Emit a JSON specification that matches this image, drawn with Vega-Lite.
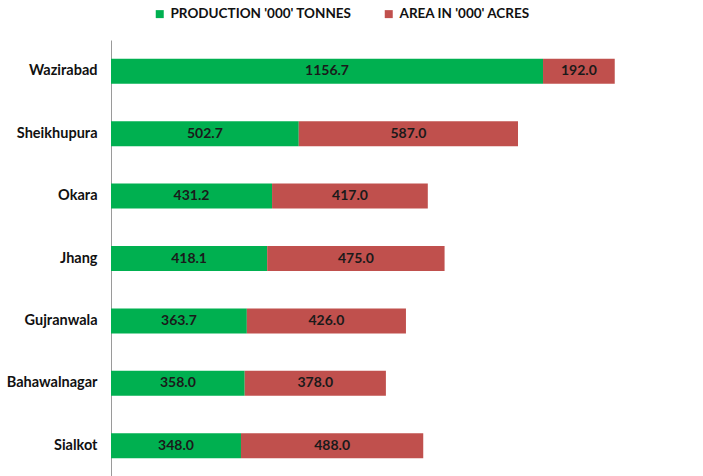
{
  "$schema": "https://vega.github.io/schema/vega-lite/v6.json",
  "autosize": {"type": "none"},
  "padding": {"left": 111, "top": 40, "right": 0, "bottom": 0},
  "width": 592,
  "height": 437,
  "background": "white",
  "config": {"view": {"stroke": null}, "font": "Lato"},
  "data": {
    "values": [
      {"district": "Wazirabad", "series": "PRODUCTION '000' TONNES", "ord": 1, "value": 1156.7},
      {"district": "Wazirabad", "series": "AREA IN '000' ACRES", "ord": 2, "value": 192.0},
      {"district": "Sheikhupura", "series": "PRODUCTION '000' TONNES", "ord": 1, "value": 502.7},
      {"district": "Sheikhupura", "series": "AREA IN '000' ACRES", "ord": 2, "value": 587.0},
      {"district": "Okara", "series": "PRODUCTION '000' TONNES", "ord": 1, "value": 431.2},
      {"district": "Okara", "series": "AREA IN '000' ACRES", "ord": 2, "value": 417.0},
      {"district": "Jhang", "series": "PRODUCTION '000' TONNES", "ord": 1, "value": 418.1},
      {"district": "Jhang", "series": "AREA IN '000' ACRES", "ord": 2, "value": 475.0},
      {"district": "Gujranwala", "series": "PRODUCTION '000' TONNES", "ord": 1, "value": 363.7},
      {"district": "Gujranwala", "series": "AREA IN '000' ACRES", "ord": 2, "value": 426.0},
      {"district": "Bahawalnagar", "series": "PRODUCTION '000' TONNES", "ord": 1, "value": 358.0},
      {"district": "Bahawalnagar", "series": "AREA IN '000' ACRES", "ord": 2, "value": 378.0},
      {"district": "Sialkot", "series": "PRODUCTION '000' TONNES", "ord": 1, "value": 348.0},
      {"district": "Sialkot", "series": "AREA IN '000' ACRES", "ord": 2, "value": 488.0}
    ]
  },
  "transform": [
    {"stack": "value", "groupby": ["district"], "sort": [{"field": "ord"}], "as": ["v0", "v1"]},
    {"calculate": "(datum.v0 + datum.v1) / 2", "as": "vmid"}
  ],
  "encoding": {
    "y": {
      "field": "district",
      "type": "nominal",
      "sort": ["Wazirabad", "Sheikhupura", "Okara", "Jhang", "Gujranwala", "Bahawalnagar", "Sialkot"],
      "scale": {"paddingInner": 0.6, "paddingOuter": 0.3},
      "axis": {
        "title": null,
        "ticks": false,
        "domainColor": "#9a9a9a",
        "domainWidth": 1,
        "labelFont": "Lato",
        "labelFontSize": 14.5,
        "labelFontWeight": "bold",
        "labelColor": "#111111",
        "labelPadding": 14
      }
    }
  },
  "layer": [
    {
      "mark": {"type": "bar"},
      "encoding": {
        "x": {"field": "v0", "type": "quantitative", "scale": {"domain": [0, 1585], "nice": false}, "axis": null},
        "x2": {"field": "v1"},
        "color": {
          "field": "series",
          "type": "nominal",
          "sort": ["PRODUCTION '000' TONNES", "AREA IN '000' ACRES"],
          "scale": {"domain": ["PRODUCTION '000' TONNES", "AREA IN '000' ACRES"], "range": ["#00B050", "#C0504D"]},
          "legend": {
            "title": null,
            "orient": "none",
            "direction": "horizontal",
            "legendX": 42,
            "legendY": -33,
            "symbolType": "square",
            "symbolSize": 64,
            "symbolStrokeWidth": 0,
            "labelFont": "Lato",
            "labelFontSize": 13.5,
            "labelFontWeight": "bold",
            "labelColor": "#111111",
            "labelLimit": 400,
            "columnPadding": 30,
            "labelOffset": 4
          }
        }
      }
    },
    {
      "mark": {"type": "text", "font": "Lato", "fontSize": 14, "fontWeight": "bold", "color": "#1a1a1a"},
      "encoding": {
        "x": {"field": "vmid", "type": "quantitative"},
        "text": {"field": "value", "type": "quantitative", "format": ".1f"}
      }
    }
  ]
}
